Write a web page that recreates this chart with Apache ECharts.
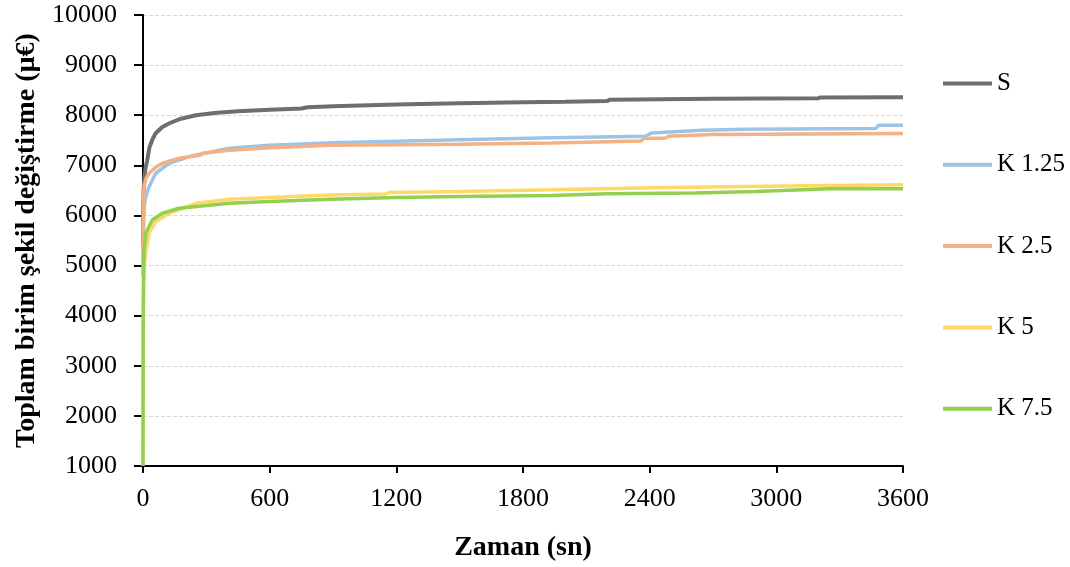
<!DOCTYPE html>
<html>
<head>
<meta charset="utf-8">
<script src="https://cdn.jsdelivr.net/npm/echarts@6/dist/echarts.min.js"></script>
<style>
html,body{margin:0;padding:0;background:#fff;}
#chart{width:1070px;height:567px;}
</style>
</head>
<body>
<div id="chart"></div>
<script>
var seriesNames = ["S", "K 1.25", "K 2.5", "K 5", "K 7.5"];
var seriesColors = ["#6e6e6e", "#9dc3e6", "#f4b183", "#ffd966", "#92d050"];

var tS = [0, 1, 3, 6, 12, 20, 30, 45, 60, 90, 125, 180, 250, 350, 450, 600, 750, 780, 900, 1200, 1500, 1800, 2000, 2200, 2210, 2700, 3200, 3210, 3600];
var vS = [5400, 6100, 6500, 6750, 6950, 7100, 7350, 7520, 7640, 7760, 7840, 7930, 8000, 8050, 8080, 8110, 8135, 8160, 8180, 8215, 8240, 8260, 8270, 8285, 8310, 8330, 8340, 8355, 8360];

var tK125 = [0, 1, 2, 5, 15, 29, 60, 124, 219, 251, 410, 600, 900, 1200, 1500, 1933, 2380, 2410, 2648, 2854, 3470, 3485, 3600];
var vK125 = [4800, 5500, 5800, 6175, 6400, 6575, 6842, 7042, 7174, 7207, 7341, 7400, 7450, 7480, 7510, 7550, 7580, 7647, 7700, 7720, 7733, 7800, 7800];

var tK25 = [0, 1, 2, 5, 15, 29, 60, 92, 171, 270, 285, 410, 600, 886, 1200, 1500, 1933, 2360, 2370, 2475, 2490, 2700, 3600];
var vK25 = [5000, 5900, 6200, 6575, 6750, 6842, 6960, 7042, 7142, 7200, 7242, 7300, 7350, 7400, 7410, 7420, 7447, 7487, 7533, 7545, 7580, 7613, 7633];

var tK5 = [0, 1, 3, 6, 13, 29, 60, 124, 251, 410, 600, 886, 1150, 1170, 1500, 1933, 2410, 3044, 3600];
var vK5 = [1000, 3500, 4600, 4950, 5245, 5645, 5876, 6044, 6243, 6323, 6360, 6410, 6430, 6460, 6480, 6513, 6553, 6587, 6613];

var tK75 = [0, 1, 3, 6, 13, 44, 92, 171, 410, 600, 886, 1200, 1500, 1933, 2203, 2616, 2902, 3029, 3251, 3600];
var vK75 = [1000, 4000, 5000, 5350, 5645, 5910, 6044, 6143, 6243, 6280, 6323, 6360, 6380, 6400, 6433, 6447, 6480, 6500, 6533, 6533];

var xTicks = [0, 600, 1200, 1800, 2400, 3000, 3600];
var yTicks = [1000, 2000, 3000, 4000, 5000, 6000, 7000, 8000, 9000, 10000];

function pairs(t, v) { return t.map(function (x, i) { return [x, v[i]]; }); }
var allT = [tS, tK125, tK25, tK5, tK75];
var allV = [vS, vK125, vK25, vK5, vK75];
var widths = [4, 3.5, 3.5, 3.5, 3.5];

var FONT = "Liberation Serif";
var chart = echarts.init(document.getElementById('chart'));
chart.setOption({
  animation: false,
  backgroundColor: '#ffffff',
  grid: { left: 143, right: 167, top: 15, bottom: 101, containLabel: false },
  legend: {
    orient: 'vertical',
    left: 943,
    top: 71,
    padding: 0,
    icon: 'rect',
    itemWidth: 49,
    itemHeight: 4,
    itemGap: 56.3,
    data: seriesNames,
    textStyle: { fontFamily: FONT, fontSize: 25, color: '#000' }
  },
  xAxis: {
    type: 'value',
    min: xTicks[0],
    max: xTicks[xTicks.length - 1],
    interval: 600,
    name: 'Zaman (sn)',
    nameLocation: 'middle',
    nameGap: 68,
    nameTextStyle: { fontFamily: FONT, fontSize: 28, fontWeight: 'bold', color: '#000' },
    axisLine: { show: true, lineStyle: { color: '#000', width: 2 } },
    axisTick: { show: true, length: 7, lineStyle: { color: '#000', width: 2 } },
    axisLabel: { fontFamily: FONT, fontSize: 26, color: '#000', margin: 20, formatter: function (v) { return String(v); } },
    splitLine: { show: false }
  },
  yAxis: {
    type: 'value',
    min: yTicks[0],
    max: yTicks[yTicks.length - 1],
    interval: 1000,
    name: 'Toplam birim şekil değiştirme (µ€)',
    nameLocation: 'middle',
    nameGap: 99,
    nameTextStyle: { fontFamily: FONT, fontSize: 28, fontWeight: 'bold', color: '#000' },
    axisLine: { show: true, lineStyle: { color: '#000', width: 2 } },
    axisTick: { show: true, length: 9, lineStyle: { color: '#000', width: 2 } },
    axisLabel: { fontFamily: FONT, fontSize: 26, color: '#000', margin: 26, formatter: function (v) { return String(v); } },
    splitLine: { show: true, lineStyle: { color: '#d9d9d9', type: 'dashed', width: 1 } }
  },
  series: seriesNames.map(function (n, i) {
    return {
      name: n,
      type: 'line',
      data: pairs(allT[i], allV[i]),
      showSymbol: false,
      symbol: 'none',
      color: seriesColors[i],
      lineStyle: { color: seriesColors[i], width: widths[i] },
      z: 2 + i
    };
  })
});
</script>
</body>
</html>
